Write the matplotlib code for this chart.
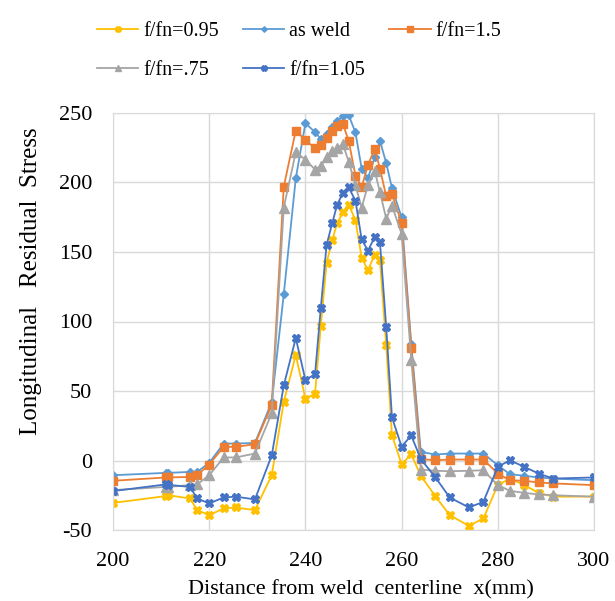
import matplotlib
matplotlib.use("Agg")
import matplotlib.pyplot as plt

# Measurement positions along the plate (mm)
x_mm = [200, 211, 211.5, 216, 217.5, 220, 223, 225.5, 229.5, 233,
        235.5, 238, 240, 242, 243.2, 244.4, 245.6, 246.6, 247.8, 249,
        250.4, 251.7, 253, 254.4, 255.5, 256.8, 258, 260, 262, 264,
        267, 270, 274, 277, 280, 282.5, 285.5, 288.5, 291.5, 300]

# Longitudinal residual stress for each case
s_095 = [-30.5, -25.6, -25, -27.3, -35.7, -39.3, -34.5, -33.8, -35.7, -10.6,
         42, 76, 44.5, 48, 96.7, 142, 158.8, 170.7, 178.6, 184,
         173, 145.8, 136.7, 148.2, 143.9, 82.8, 18.2, -2.7, 4.5, -11,
         -25.6, -39.3, -47, -41.7, -17.7, -13, -17.7, -23.3, -26, -26]

s_weld = [-10.6, -8.9, -8.9, -8.2, -8.2, -1.7, 12.2, 12.2, 12.6, 42,
          119.5, 203, 242.6, 236.3, 231.3, 235, 240, 244.5, 247.5, 248.5,
          236, 210, 203, 218, 230, 214, 196, 175, 84, 6.2,
          4.3, 5, 5, 5, -3.4, -9.8, -11, -12.2, -13, -14.2]

s_150 = [-14.6, -12.2, -12.2, -11.8, -10.6, -2.9, 9.8, 9.8, 11.7, 40,
         197, 237.3, 230.6, 224.6, 227, 232, 237.3, 240.4, 242, 230,
         205, 196.6, 212.6, 224, 210, 190, 191.5, 171, 81, 1,
         0.2, 0.7, 0.7, 0.7, -9.4, -14.2, -14.6, -15.8, -16.5, -17.7]

s_075 = [-21.3, -19, -19, -17.7, -17.2, -10.6, 2.2, 2.2, 5, 34,
         182, 221.7, 216.5, 209.3, 212, 218, 223, 225, 227.5, 215,
         198, 182, 198, 208.5, 193, 174, 183.4, 163, 72.6, -6.5,
         -7.4, -7.7, -7.4, -7, -17.7, -21.8, -23.3, -24.4, -25, -26]

s_105 = [-22, -17.2, -17.5, -19, -27.3, -30.9, -26.6, -26, -28, 3.6,
         54, 88, 58, 62, 109.6, 155, 171, 184, 192.5, 196.5,
         187, 159, 151, 160.6, 157, 96, 31, 10, 18, 1,
         -12, -26.6, -33.8, -29.7, -4.6, 0.2, -4.6, -9.4, -13, -12.2]

x_ticks = [200, 220, 240, 260, 280, 300]
y_ticks = [-50, 0, 50, 100, 150, 200, 250]

plt.rcParams["font.family"] = ["Liberation Serif", "DejaVu Serif"]
plt.rcParams["axes.unicode_minus"] = False

W, H = 615, 601
fig = plt.figure(figsize=(W / 100, H / 100), dpi=100)
ax = fig.add_axes([113 / W, 1 - 530 / H, (594 - 113) / W, (530 - 113) / H])

h_095, = ax.plot(x_mm, s_095, color="#FFC000", lw=1.3, marker="X", ms=5.5,
                 label="f/fn=0.95")
h_weld, = ax.plot(x_mm, s_weld, color="#5B9BD5", lw=1.3, marker="D", ms=4,
                  label="as weld")
h_150, = ax.plot(x_mm, s_150, color="#ED7D31", lw=1.3, marker="s", ms=5.5,
                 label="f/fn=1.5")
h_075, = ax.plot(x_mm, s_075, color="#A5A5A5", lw=1.3, marker="^", ms=7,
                 label="f/fn=.75")
h_105, = ax.plot(x_mm, s_105, color="#4472C4", lw=1.3, marker="X", ms=5.5,
                 label="f/fn=1.05")

ax.set_xlim(200, 300)
ax.set_ylim(-50, 250)
ax.set_xticks(x_ticks)
ax.set_yticks(y_ticks)
ax.tick_params(axis="y", length=0, labelsize=16, pad=15)
ax.tick_params(axis="x", length=0, labelsize=16, pad=16)
ax.grid(True, color="#D9D9D9", lw=1)
ax.set_axisbelow(True)
for sp in ax.spines.values():
    sp.set_color("#D9D9D9")

fig.text(361 / W, 1 - 594 / H, "Distance from weld  centerline  x(mm)",
         fontsize=16, ha="center", va="baseline")
fig.text(31 / W, 1 - 281 / H, "Longitudinal   Residual  Stress",
         fontsize=18, ha="center", va="center", rotation=90)

# row-major ordering in a 3-column legend
handles = [h_095, h_075, h_weld, h_105, h_150]
fig.legend(handles=handles, labels=[h.get_label() for h in handles],
           loc="upper left", bbox_to_anchor=(97 / W, 1 - 22 / H), ncol=3,
           frameon=False, fontsize=14.5, handlelength=2.05, columnspacing=1.2,
           labelspacing=1.0, handletextpad=0.25, markerscale=0.7,
           borderpad=0, borderaxespad=0)

fig.savefig("out.png", dpi=100)
